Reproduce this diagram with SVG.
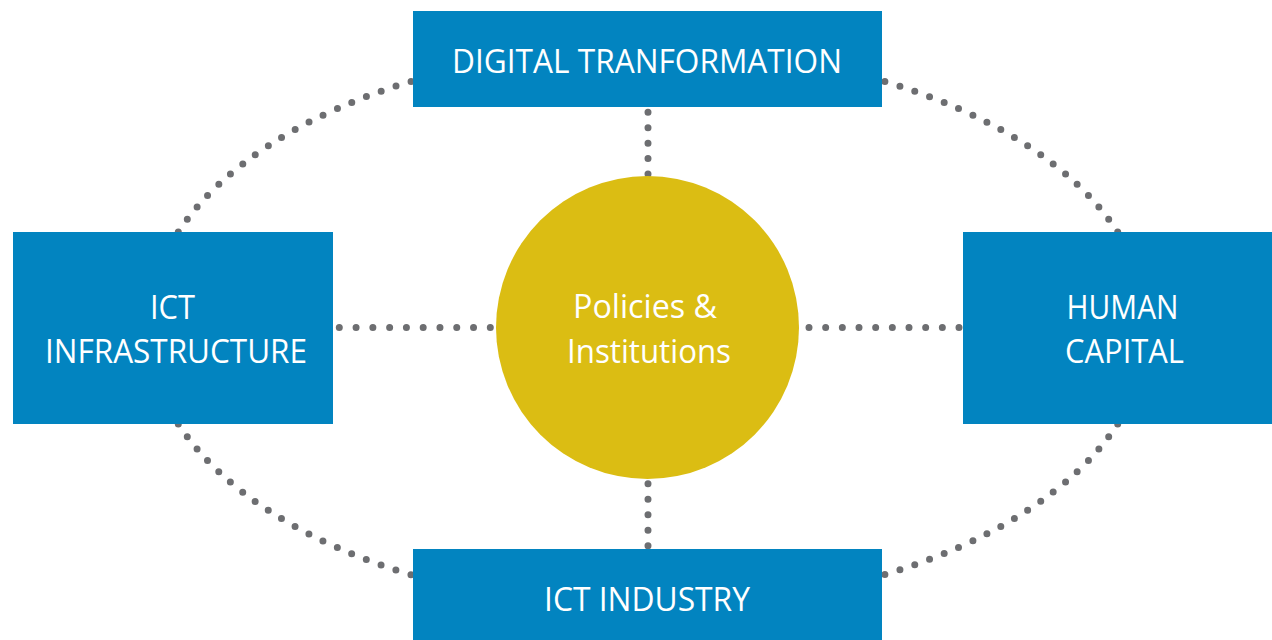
<svg xmlns="http://www.w3.org/2000/svg" width="1272" height="640" viewBox="0 0 1272 640">
<style>
.box{fill:#0284c0}
.hub{fill:#dbbd13}
.lbl{font-family:"Open Sans","Noto Sans","Liberation Sans",sans-serif;font-size:33px;fill:#ffffff;text-anchor:middle}
.dot{fill:none;stroke:#6d6e71;stroke-width:7;stroke-linecap:round}
</style>
<rect width="1272" height="640" fill="#ffffff"/>
<g id="connectors">
<path class="dot" d="M178.3,232 A500,280 0 0 1 413,80.8" stroke-dasharray="0 15.7"/>
<path class="dot" d="M1117.7,232 A500,280 0 0 0 882,80.6" stroke-dasharray="0 15.7"/>
<path class="dot" d="M1117.7,424 A500,280 0 0 1 882,575.4" stroke-dasharray="0 15.7"/>
<path class="dot" d="M178.3,424 A500,280 0 0 0 413,575.4" stroke-dasharray="0 15.7"/>
<path class="dot" d="M339.3,327.5 H491" stroke-dasharray="0 16.778"/>
<path class="dot" d="M809,327.5 H959.6" stroke-dasharray="0 16.667"/>
<path class="dot" d="M648,112.3 V174.6" stroke-dasharray="0 15.425"/>
<path class="dot" d="M648,483.7 V546.3" stroke-dasharray="0 15.5"/>
</g>
<g id="digital-transformation">
<rect class="box" x="413" y="11" width="469" height="96"/>
<text class="lbl" x="647" y="72.7" textLength="390" lengthAdjust="spacingAndGlyphs">DIGITAL TRANFORMATION</text>
</g>
<g id="ict-industry">
<rect class="box" x="413" y="549" width="469" height="91"/>
<text class="lbl" x="647" y="610.7" textLength="206" lengthAdjust="spacingAndGlyphs">ICT INDUSTRY</text>
</g>
<g id="ict-infrastructure">
<rect class="box" x="13" y="232" width="320" height="192"/>
<text class="lbl" x="172.5" y="319.3" textLength="45" lengthAdjust="spacingAndGlyphs">ICT</text>
<text class="lbl" x="176" y="363.3" textLength="262" lengthAdjust="spacingAndGlyphs">INFRASTRUCTURE</text>
</g>
<g id="human-capital">
<rect class="box" x="963" y="232" width="309" height="192"/>
<text class="lbl" x="1122.5" y="319.3" textLength="112" lengthAdjust="spacingAndGlyphs">HUMAN</text>
<text class="lbl" x="1124.5" y="363.3" textLength="119" lengthAdjust="spacingAndGlyphs">CAPITAL</text>
</g>
<g id="policies-institutions">
<circle class="hub" cx="647.5" cy="327.5" r="151.5"/>
<text class="lbl" x="645" y="318.3" textLength="144" lengthAdjust="spacingAndGlyphs">Policies &amp;</text>
<text class="lbl" x="649" y="363.3" textLength="164" lengthAdjust="spacingAndGlyphs">Institutions</text>
</g>
</svg>
